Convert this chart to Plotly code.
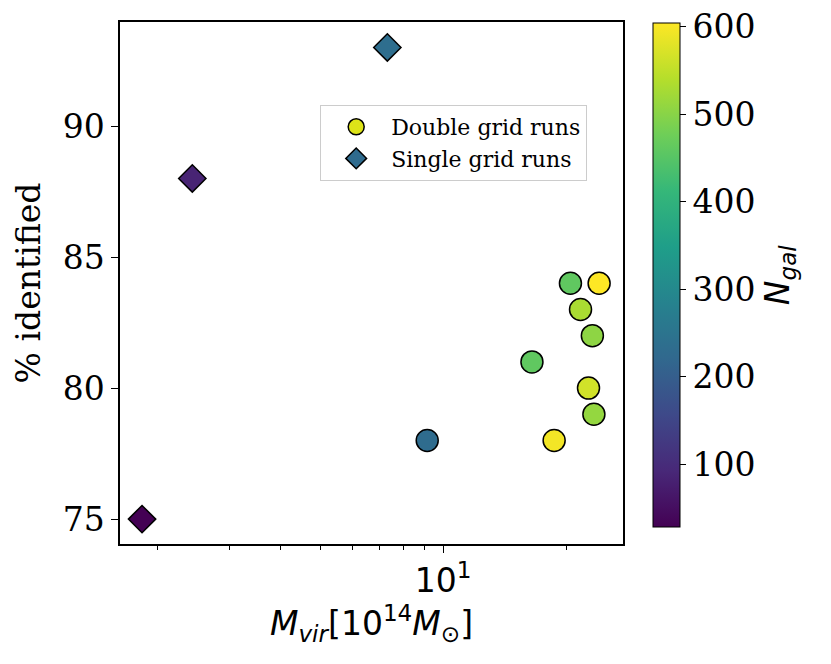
import plotly.graph_objects as go

# double grid runs (circles)
double_mvir = [20.5, 24.1, 21.7, 23.2, 16.5, 22.7, 23.4, 18.7, 9.14]
double_pct = [84, 84, 83, 82, 81, 80, 79, 78, 78]
double_ngal = [460, 604, 530, 505, 460, 565, 510, 595, 230]

# single grid runs (diamonds)
single_mvir = [1.83, 2.43, 7.30]
single_pct = [75, 88, 93]
single_ngal = [28, 85, 235]

minor_x = [2, 3, 4, 5, 6, 7, 8, 9, 20]
yticks = [75, 80, 85, 90]
cbar_ticks = [100, 200, 300, 400, 500, 600]

serif = "DejaVu Serif"
sans = "DejaVu Sans"

fig = go.Figure()

fig.add_trace(go.Scatter(
    x=double_mvir, y=double_pct, mode="markers", showlegend=False,
    marker=dict(symbol="circle", size=22, color=double_ngal, coloraxis="coloraxis",
                line=dict(color="black", width=1.5)),
))
fig.add_trace(go.Scatter(
    x=single_mvir, y=single_pct, mode="markers", showlegend=False,
    marker=dict(symbol="diamond", size=21, color=single_ngal, coloraxis="coloraxis",
                line=dict(color="black", width=1.5)),
))

# legend entries with fixed colours
fig.add_trace(go.Scatter(
    x=[None], y=[None], mode="markers", name="Double grid runs",
    marker=dict(symbol="circle", size=22, color="#dde318", line=dict(color="black", width=1.5)),
))
fig.add_trace(go.Scatter(
    x=[None], y=[None], mode="markers", name="Single grid runs",
    marker=dict(symbol="diamond", size=21, color="#2f6b8e", line=dict(color="black", width=1.5)),
))

fig.update_layout(
    width=831, height=664,
    margin=dict(l=112, r=216, t=14, b=128, autoexpand=False),
    plot_bgcolor="white", paper_bgcolor="white",
    xaxis=dict(
        type="log", range=[0.2085, 1.4405],
        tickvals=[10], ticktext=["10<sup>1</sup>"],
        ticks="outside", ticklen=7, tickwidth=1.2, tickcolor="black",
        minor=dict(tickvals=minor_x, ticks="outside", ticklen=4, tickcolor="black"),
        showline=True, linecolor="black", linewidth=1.5, mirror=True,
        showgrid=False, zeroline=False,
        tickfont=dict(family=sans, size=33, color="black"),
        title=dict(text="<i>M</i><sub><i>vir</i></sub>[10<sup>14</sup><i>M</i><sub>⊙</sub>]",
                   font=dict(family=sans, size=33, color="black"), standoff=8),
    ),
    yaxis=dict(
        range=[74.05, 93.97], tickvals=yticks,
        ticks="outside", ticklen=7, tickwidth=1.2, tickcolor="black",
        showline=True, linecolor="black", linewidth=1.5, mirror=True,
        showgrid=False, zeroline=False,
        tickfont=dict(family=serif, size=33, color="black"),
        title=dict(text="% identified", font=dict(family=serif, size=33, color="black"), standoff=12),
    ),
    coloraxis=dict(
        colorscale="Viridis", cmin=28, cmax=604,
        colorbar=dict(
            thickness=27, len=524, lenmode="pixels",
            x=1.0398, xanchor="left", y=0.515, yanchor="middle",
            outlinecolor="black", outlinewidth=1,
            tickvals=cbar_ticks, ticklabeloverflow="allow",
            ticks="outside", ticklen=6, tickcolor="black",
            tickfont=dict(family=serif, size=33, color="black"),
            title=dict(text="<i>N</i><sub><i>gal</i></sub>", side="right",
                       font=dict(family=sans, size=33, color="black")),
        ),
    ),
    legend=dict(
        x=0.398, y=0.841, xanchor="left", yanchor="top",
        bgcolor="white", bordercolor="#cccccc", borderwidth=1,
        font=dict(family=serif, size=22, color="black"),
        itemwidth=60, tracegroupgap=2,
    ),
)

fig.write_html("out.html")
